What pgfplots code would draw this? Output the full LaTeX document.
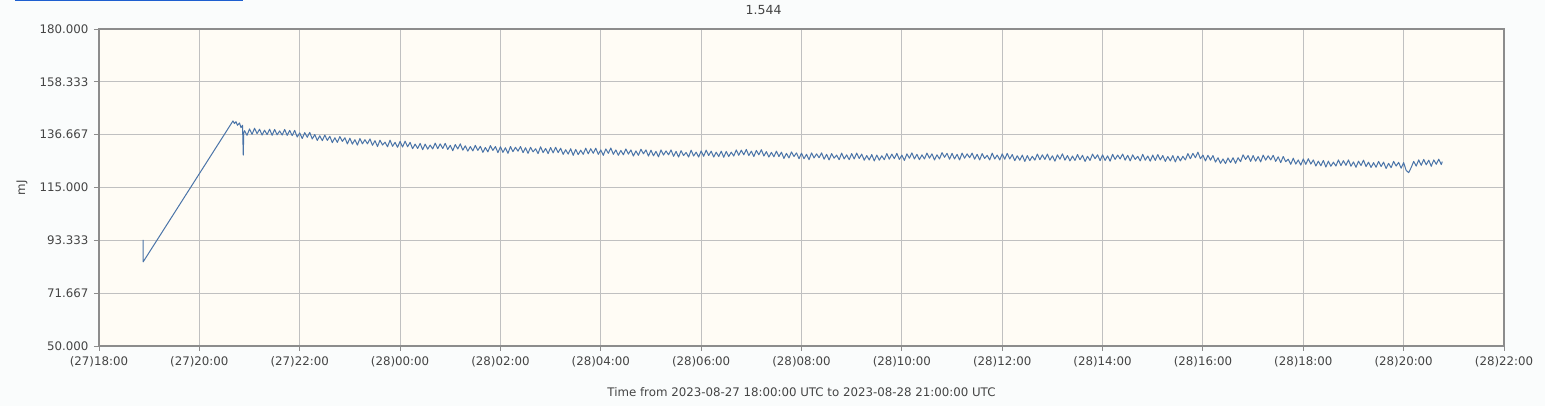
\documentclass[border=0pt]{standalone}
\usepackage{fontspec}
\setmainfont{DejaVu Sans}
\usepackage{pgfplots}
\pgfplotsset{compat=1.18}
\definecolor{pagebg}{RGB}{250,252,252}
\definecolor{plotbg}{RGB}{255,252,245}
\definecolor{gridc}{RGB}{192,192,192}
\definecolor{framec}{RGB}{140,140,140}
\definecolor{linec}{RGB}{74,116,168}
\definecolor{txt}{RGB}{68,68,68}
\definecolor{tabblue}{RGB}{30,95,208}
\begin{document}
\begin{tikzpicture}
\fill[pagebg] (-99pt,-60pt) rectangle (1446pt,346pt);
\begin{axis}[
  at={(0,0)}, anchor=south west,
  scale only axis, width=1405pt, height=317pt,
  xmin=0, xmax=28, ymin=50, ymax=180,
  axis background/.style={fill=plotbg},
  axis line style={draw=framec, line width=1.6pt},
  grid=major, major grid style={draw=gridc, line width=0.9pt},
  tick align=outside, major tick length=5pt,
  xtick pos=left, ytick pos=left,
  tick style={draw=framec, line width=0.9pt},
  xtick={0,2,...,28},
  xticklabels={(27)18:00,(27)20:00,(27)22:00,(28)00:00,(28)02:00,(28)04:00,(28)06:00,(28)08:00,(28)10:00,(28)12:00,(28)14:00,(28)16:00,(28)18:00,(28)20:00,(28)22:00},
  ytick={50,71.667,93.333,115,136.667,158.333,180},
  yticklabels={50.000,71.667,93.333,115.000,136.667,158.333,180.000},
  ticklabel style={font=\fontsize{11.8}{13}\selectfont, text=txt},
  xticklabel style={yshift=-2pt},
  yticklabel style={xshift=-2pt},
  xlabel={Time from 2023-08-27 18:00:00 UTC to 2023-08-28 21:00:00 UTC},
  xlabel style={at={(axis description cs:0.5,0)}, anchor=center, yshift=-46pt, font=\fontsize{11.8}{13}\selectfont, text=txt},
  title={1.544},
  title style={at={(axis description cs:0.473,1.06)}, anchor=center, yshift=0pt, inner sep=0pt, font=\fontsize{12.5}{14}\selectfont, text=txt},
  every axis title shift=0pt,
  clip=false,
]
\addplot[linec, line width=1pt, line join=round] coordinates {
(0.88,93.5) (0.88,84.5) (2.67,142.3) (2.70,141.2) (2.73,142.0) (2.76,140.5) (2.80,141.5) (2.83,139.5) (2.86,140.5) (2.875,128.3) (2.885,137.5)
(2.90,138.3) (2.95,136.4)
(3.00,139.0) (3.05,136.8) (3.10,139.3) (3.15,137.1) (3.20,138.9) (3.25,136.5) (3.30,138.5) (3.35,136.7) (3.40,138.9) (3.45,136.4)
(3.50,138.8) (3.55,136.6) (3.60,138.2) (3.65,136.5) (3.70,138.8) (3.75,136.4) (3.80,138.4) (3.85,136.3) (3.90,138.4) (3.95,135.7)
(4.00,137.4) (4.05,135.1) (4.10,137.5) (4.15,135.6) (4.20,137.6) (4.25,134.9) (4.30,136.7) (4.35,134.3) (4.40,136.2) (4.45,134.2)
(4.50,136.5) (4.55,134.3) (4.60,136.0) (4.65,133.4) (4.70,135.4) (4.75,133.5) (4.80,135.9) (4.85,133.9) (4.90,135.4) (4.95,132.9)
(5.00,135.2) (5.05,132.8) (5.10,134.6) (5.15,132.4) (5.20,135.1) (5.25,132.9) (5.30,134.6) (5.35,132.9) (5.40,134.9) (5.45,132.3)
(5.50,134.2) (5.55,131.8) (5.60,134.4) (5.65,132.4) (5.70,133.6) (5.75,131.7) (5.80,134.4) (5.85,131.9) (5.90,133.5) (5.95,131.5)
(6.00,133.9) (6.05,131.6) (6.10,134.0) (6.15,131.7) (6.20,133.5) (6.25,130.9) (6.30,132.8) (6.35,131.0) (6.40,133.1) (6.45,130.5)
(6.50,132.8) (6.55,130.7) (6.60,132.4) (6.65,130.8) (6.70,133.2) (6.75,130.9) (6.80,132.9) (6.85,131.0) (6.90,133.1) (6.95,130.6)
(7.00,132.3) (7.05,130.1) (7.10,132.6) (7.15,130.8) (7.20,132.9) (7.25,130.3) (7.30,132.1) (7.35,129.9) (7.40,131.8) (7.45,130.0)
(7.50,132.3) (7.55,130.2) (7.60,131.9) (7.65,129.4) (7.70,131.4) (7.75,129.6) (7.80,132.2) (7.85,130.2) (7.90,131.8) (7.95,129.3)
(8.00,131.7) (8.05,129.4) (8.10,131.3) (8.15,129.0) (8.20,131.8) (8.25,129.7) (8.30,131.5) (8.35,129.9) (8.40,131.8) (8.45,129.3)
(8.50,131.3) (8.55,129.0) (8.60,131.5) (8.65,129.6) (8.70,130.9) (8.75,128.9) (8.80,131.7) (8.85,129.3) (8.90,131.0) (8.95,128.9)
(9.00,131.4) (9.05,129.2) (9.10,131.5) (9.15,129.3) (9.20,131.1) (9.25,128.6) (9.30,130.5) (9.35,128.7) (9.40,130.9) (9.45,128.2)
(9.50,130.6) (9.55,128.5) (9.60,130.3) (9.65,128.6) (9.70,131.1) (9.75,128.8) (9.80,130.9) (9.85,129.0) (9.90,131.1) (9.95,128.6)
(10.00,130.4) (10.05,128.2) (10.10,130.8) (10.15,129.0) (10.20,131.2) (10.25,128.6) (10.30,130.4) (10.35,128.2) (10.40,130.2) (10.45,128.4)
(10.50,130.8) (10.55,128.7) (10.60,130.4) (10.65,127.9) (10.70,130.0) (10.75,128.2) (10.80,130.7) (10.85,128.8) (10.90,130.4) (10.95,127.9)
(11.00,130.3) (11.05,128.0) (11.10,129.8) (11.15,127.6) (11.20,130.4) (11.25,128.3) (11.30,130.0) (11.35,128.4) (11.40,130.4) (11.45,127.8)
(11.50,129.8) (11.55,127.5) (11.60,130.1) (11.65,128.1) (11.70,129.4) (11.75,127.5) (11.80,130.3) (11.85,127.9) (11.90,129.5) (11.95,127.5)
(12.00,130.0) (12.05,127.8) (12.10,130.3) (12.15,128.1) (12.20,129.9) (12.25,127.5) (12.30,129.5) (12.35,127.7) (12.40,129.9) (12.45,127.4)
(12.50,129.8) (12.55,127.7) (12.60,129.5) (12.65,127.9) (12.70,130.4) (12.75,128.2) (12.80,130.3) (12.85,128.4) (12.90,130.6) (12.95,128.1)
(13.00,129.9) (13.05,127.7) (13.10,130.2) (13.15,128.4) (13.20,130.5) (13.25,127.9) (13.30,129.7) (13.35,127.5) (13.40,129.4) (13.45,127.6)
(13.50,129.9) (13.55,127.7) (13.60,129.5) (13.65,126.9) (13.70,129.0) (13.75,127.1) (13.80,129.6) (13.85,127.7) (13.90,129.2) (13.95,126.8)
(14.00,129.1) (14.05,126.8) (14.10,128.6) (14.15,126.4) (14.20,129.2) (14.25,127.1) (14.30,128.8) (14.35,127.2) (14.40,129.2) (14.45,126.6)
(14.50,128.6) (14.55,126.3) (14.60,128.9) (14.65,127.0) (14.70,128.3) (14.75,126.4) (14.80,129.1) (14.85,126.7) (14.90,128.4) (14.95,126.4)
(15.00,128.9) (15.05,126.7) (15.10,129.1) (15.15,126.9) (15.20,128.7) (15.25,126.2) (15.30,128.1) (15.35,126.3) (15.40,128.5) (15.45,125.9)
(15.50,128.3) (15.55,126.2) (15.60,128.0) (15.65,126.4) (15.70,128.9) (15.75,126.6) (15.80,128.7) (15.85,126.8) (15.90,129.0) (15.95,126.5)
(16.00,128.3) (16.05,126.1) (16.10,128.8) (16.15,127.0) (16.20,129.2) (16.25,126.7) (16.30,128.6) (16.35,126.4) (16.40,128.4) (16.45,126.7)
(16.50,129.1) (16.55,127.0) (16.60,128.8) (16.65,126.3) (16.70,128.4) (16.75,126.7) (16.80,129.3) (16.85,127.4) (16.90,129.0) (16.95,126.6)
(17.00,129.0) (17.05,126.7) (17.10,128.6) (17.15,126.3) (17.20,129.1) (17.25,127.0) (17.30,128.8) (17.35,127.2) (17.40,129.1) (17.45,126.6)
(17.50,128.6) (17.55,126.3) (17.60,128.9) (17.65,126.9) (17.70,128.2) (17.75,126.3) (17.80,129.1) (17.85,126.7) (17.90,128.3) (17.95,126.3)
(18.00,128.8) (18.05,126.6) (18.10,129.0) (18.15,126.7) (18.20,128.5) (18.25,126.0) (18.30,128.0) (18.35,126.2) (18.40,128.3) (18.45,125.7)
(18.50,128.1) (18.55,126.0) (18.60,127.8) (18.65,126.2) (18.70,128.7) (18.75,126.4) (18.80,128.4) (18.85,126.5) (18.90,128.7) (18.95,126.2)
(19.00,128.0) (19.05,125.8) (19.10,128.4) (19.15,126.6) (19.20,128.8) (19.25,126.2) (19.30,128.1) (19.35,125.9) (19.40,127.9) (19.45,126.1)
(19.50,128.5) (19.55,126.4) (19.60,128.2) (19.65,125.7) (19.70,127.8) (19.75,126.1) (19.80,128.7) (19.85,126.8) (19.90,128.4) (19.95,126.0)
(20.00,128.4) (20.05,126.1) (20.10,128.0) (20.15,125.8) (20.20,128.6) (20.25,126.5) (20.30,128.3) (20.35,126.7) (20.40,128.7) (20.45,126.2)
(20.50,128.2) (20.55,125.9) (20.60,128.4) (20.65,126.5) (20.70,127.8) (20.75,125.9) (20.80,128.6) (20.85,126.2) (20.90,127.9) (20.95,125.8)
(21.00,128.3) (21.05,126.1) (21.10,128.5) (21.15,126.3) (21.20,128.1) (21.25,125.7) (21.30,127.7) (21.35,125.9) (21.40,128.1) (21.45,125.5)
(21.50,127.9) (21.55,125.9) (21.60,127.8) (21.65,126.3) (21.70,128.9) (21.75,126.8) (21.80,129.0) (21.85,127.2) (21.90,129.5) (21.95,126.8)
(22.00,128.3) (22.05,125.9) (22.10,128.2) (22.15,126.2) (22.20,128.1) (22.25,125.4) (22.30,127.2) (22.35,124.9) (22.40,126.7) (22.45,124.8)
(22.50,127.1) (22.55,125.2) (22.60,127.2) (22.65,124.9) (22.70,127.2) (22.75,125.6) (22.80,128.4) (22.85,126.5) (22.90,128.1) (22.95,125.7)
(23.00,128.1) (23.05,125.8) (23.10,127.7) (23.15,125.5) (23.20,128.3) (23.25,126.2) (23.30,128.0) (23.35,126.3) (23.40,128.2) (23.45,125.7)
(23.50,127.6) (23.55,125.2) (23.60,127.7) (23.65,125.6) (23.70,126.6) (23.75,124.5) (23.80,127.0) (23.85,124.6) (23.90,126.3) (23.95,124.2)
(24.00,126.7) (24.05,124.5) (24.10,126.8) (24.15,124.6) (24.20,126.3) (24.25,123.8) (24.30,125.8) (24.35,123.9) (24.40,126.1) (24.45,123.4)
(24.50,125.8) (24.55,123.7) (24.60,125.4) (24.65,123.8) (24.70,126.3) (24.75,124.0) (24.80,126.0) (24.85,124.1) (24.90,126.3) (24.95,123.7)
(25.00,125.5) (25.05,123.3) (25.10,125.8) (25.15,124.0) (25.20,126.2) (25.25,123.6) (25.30,125.4) (25.35,123.2) (25.40,125.2) (25.45,123.3)
(25.50,125.7) (25.55,123.6) (25.60,125.4) (25.65,122.8) (25.70,124.9) (25.75,123.1) (25.80,125.7) (25.85,123.8) (25.90,125.3) (25.95,122.9)
(26.00,125.2) (26.05,122.0) (26.10,121.1) (26.15,123.2) (26.20,125.7) (26.25,123.8) (26.30,126.3) (26.35,124.1) (26.40,126.5) (26.45,124.3)
(26.50,126.2) (26.55,123.7) (26.60,126.3) (26.65,124.5) (26.70,126.6) (26.75,124.4) (26.77,125.6)
};
\fill[tabblue] (axis description cs:-0.0598,1.0868) rectangle (axis description cs:0.1025,1.0915);
\end{axis}
\node[rotate=90, font=\fontsize{11.8}{13}\selectfont, text=txt] at (-77pt,158pt) {mJ};
\pgfresetboundingbox
\path (-99pt,-60pt) rectangle (1446pt,346pt);
\end{tikzpicture}
\end{document}
